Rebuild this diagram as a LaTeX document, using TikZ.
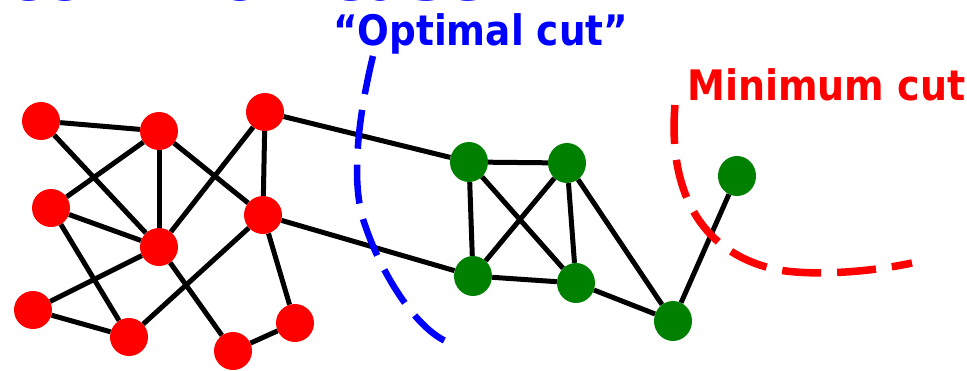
\documentclass[tikz,border=0pt]{standalone}
\usepackage{graphicx}
\usepackage{fontspec}
\setsansfont{DejaVu Sans}
\usetikzlibrary{shapes.geometric}

\definecolor{cutblue}{RGB}{0,0,255}
\definecolor{cutred}{RGB}{255,0,0}
\definecolor{vgreen}{RGB}{0,128,0}

\tikzset{
	rednode/.style={circle,fill=cutred,minimum size=38pt,inner sep=0pt},
	greennode/.style={ellipse,fill=vgreen,minimum width=38pt,minimum height=40pt,inner sep=0pt},
	link/.style={line width=5pt},
	cutline/.style={line width=6.5pt,dash pattern=on 39pt off 16pt},
	cutlabel/.style={font=\sffamily\bfseries\fontsize{42}{50}\selectfont,inner sep=0pt,anchor=base west}
}

\begin{document}
\begin{tikzpicture}[x=1pt,y=-1pt]
	\useasboundingbox (0,0) rectangle (967,370);
	\clip (0,0) rectangle (967,370);
	% title, cut off at the top
	\node[font=\sffamily\bfseries\fontsize{63}{70}\selectfont,text=cutblue,inner sep=0pt,anchor=base west] (heading) at (6,0) {common case:};
	% left part
	\node[rednode] (r1) at (41,121) {};
	\node[rednode] (r2) at (159,131) {};
	\node[rednode] (r3) at (265,112) {};
	\node[rednode] (r4) at (51,208) {};
	\node[rednode] (r5) at (159,247) {};
	\node[rednode] (r6) at (263,215) {};
	\node[rednode] (r7) at (33,310) {};
	\node[rednode] (r8) at (129,337) {};
	\node[rednode] (r9) at (233,351) {};
	\node[rednode] (r10) at (295,323) {};
	% right part
	\node[greennode] (g1) at (469,162) {};
	\node[greennode] (g2) at (567,163) {};
	\node[greennode] (g3) at (473,276) {};
	\node[greennode] (g4) at (576,283) {};
	\node[greennode] (g5) at (673,321) {};
	\node[greennode] (g6) at (737,176) {};
	% edges
	\draw[link] (r1) -- (r2);\draw[link] (r1) -- (r5);
	\draw[link] (r2) -- (r4);\draw[link] (r2) -- (r5);\draw[link] (r2) -- (r6);
	\draw[link] (r3) -- (r5);\draw[link] (r3) -- (r6);
	\draw[link] (r4) -- (r5);\draw[link] (r4) -- (r8);
	\draw[link] (r5) -- (r7);\draw[link] (r5) -- (r9);
	\draw[link] (r6) -- (r8);\draw[link] (r6) -- (r10);
	\draw[link] (r7) -- (r8);\draw[link] (r9) -- (r10);
	\draw[link] (r3) -- (g1);\draw[link] (r6) -- (g3);
	\draw[link] (g1) -- (g2);\draw[link] (g1) -- (g3);\draw[link] (g1) -- (g4);
	\draw[link] (g2) -- (g3);\draw[link] (g2) -- (g4);\draw[link] (g2) -- (g5);
	\draw[link] (g3) -- (g4);\draw[link] (g4) -- (g5);\draw[link] (g5) -- (g6);
	% cuts
	\draw[cutline,cutblue] (373,56) .. controls (355,130) and (352,190) .. (365,225) .. controls (380,270) and (415,330) .. (450,343);
	\draw[cutline,cutred,line width=7.5pt] (675,105) .. controls (668,190) and (700,250) .. (770,268) .. controls (800,276) and (860,274) .. (912,263);
	\node[cutlabel,text=cutblue] (optlabel) at (333,45) {\scalebox{0.89}[1]{“Optimal cut”}};
	\node[cutlabel,text=cutred] (minlabel) at (687,100) {\scalebox{0.905}[1]{Minimum cut}};
\end{tikzpicture}
\end{document}
